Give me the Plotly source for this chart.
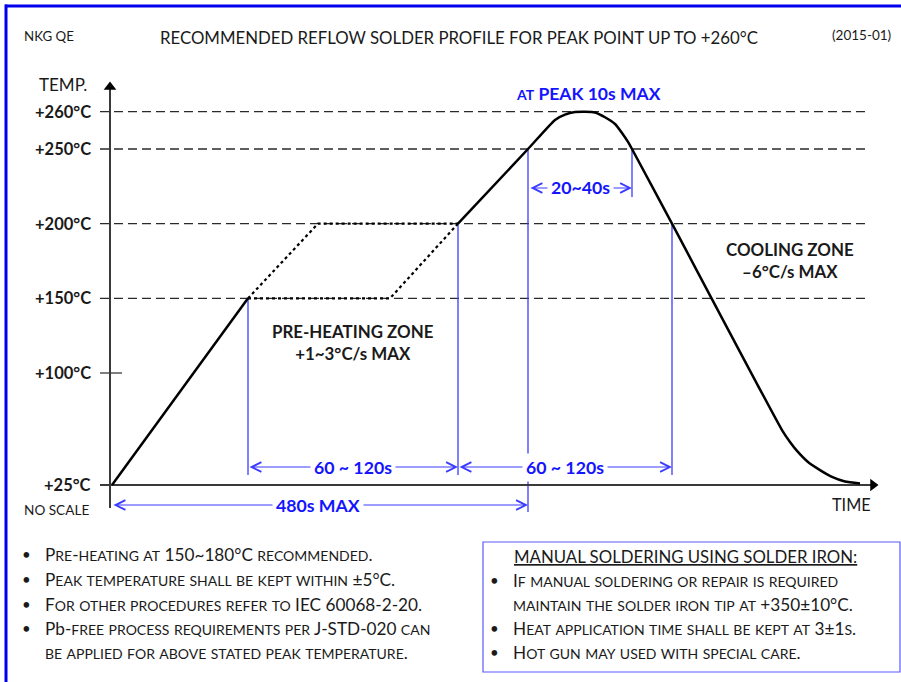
import plotly.graph_objects as go

W, H = 901, 682

# ---------------- data (schematic: time units are "no scale") ----------------
temp_levels = [260, 250, 200, 150, 100, 25]
temp_labels = ["+260°C", "+250°C", "+200°C", "+150°C", "+100°C", "+25°C"]
grid_levels = [260, 250, 200, 150]

# heating ramp 25 -> 150 °C
ramp_t = [0, 136]
ramp_T = [25, 150]
# pre-heating alternatives (dotted)
pre_fast_t = [136, 206, 346]
pre_fast_T = [150, 200, 200]
pre_slow_t = [136, 278, 346]
pre_slow_T = [150, 150, 200]
# reflow, peak and cooling
reflow_t = [346, 416, 443, 453, 463, 473, 483, 493, 503, 510, 516, 520, 560, 670, 678, 685, 696, 708, 720, 733, 748]
reflow_T = [200, 250, 257.8, 259.2, 259.9, 260, 259.8, 258.5, 256.7, 254.3, 251.9, 250, 200, 61.8, 53.8, 47.8, 40.4, 35.0, 30.4, 27.3, 26.0]

# key times of the profile
t_150 = 136
t_200_up = 346
t_250_up = 416
t_250_down = 520
t_200_down = 560

# ---------------- helpers ----------------
PX_PER_DEG = 1.4933
X0_PX, Y0_PX = 112, 485   # pixel position of (t=0, 25 °C)

def disp(T):
    """non-linear (NO SCALE) temperature axis: expand the range above 250 °C"""
    return T if T <= 250 else 250 + (T - 250) * 2.5

def pxx(x):
    return x / W

def pxy(y):
    return 1 - y / H

def sc(s, big, small):
    """small caps: lowercase -> small capitals, {...} kept literally"""
    out, cur, cur_size, lit = [], "", None, False
    for c in s:
        if c == "{":
            lit = True
            continue
        if c == "}":
            lit = False
            continue
        if lit:
            size, ch = big, c
        elif c.islower():
            size, ch = small, c.upper()
        else:
            size, ch = big, c
        if size != cur_size and cur:
            out.append(f'<span style="font-size:{cur_size}px">{cur}</span>')
            cur = ""
        cur_size = size
        cur += ch
    if cur:
        out.append(f'<span style="font-size:{cur_size}px">{cur}</span>')
    return "".join(out)

FONT = "Lato"
BLUE_TXT = "#1414ff"
BLUE_LN = "#3c3cff"
DARK = "#1a1a1a"
AXIS = "#3a3a3a"

fig = go.Figure()

# dashed reference lines
for lv in grid_levels:
    fig.add_trace(go.Scatter(x=[-12, 756], y=[disp(lv)] * 2, mode="lines",
                             line=dict(color="#2a2a2a", width=1.3, dash="9px,5px"),
                             hoverinfo="skip", showlegend=False))
# short tick at 100
fig.add_trace(go.Scatter(x=[-12, 10], y=[100, 100], mode="lines",
                         line=dict(color=AXIS, width=1.3), hoverinfo="skip", showlegend=False))

# blue vertical guide lines
vguides = [
    (t_150, 150, 31.7),
    (t_200_up, 200, 31.7),
    (t_250_up, 250, 6.9),
    (t_200_down, 200, 31.7),
    (t_250_down, 250, 217.9),
]
for t, a, b in vguides:
    fig.add_trace(go.Scatter(x=[t, t], y=[a, b], mode="lines",
                             line=dict(color=BLUE_LN, width=1.3),
                             hoverinfo="skip", showlegend=False))

# axes
fig.add_trace(go.Scatter(x=[-12, 760], y=[25, 25], mode="lines",
                         line=dict(color=AXIS, width=2), hoverinfo="skip", showlegend=False))
fig.add_trace(go.Scatter(x=[-2, -2], y=[9.6, 292], mode="lines",
                         line=dict(color=AXIS, width=2), hoverinfo="skip", showlegend=False))
fig.add_trace(go.Scatter(x=[761], y=[25], mode="markers",
                         marker=dict(symbol="triangle-right", size=11, color="black"),
                         hoverinfo="skip", showlegend=False))
fig.add_trace(go.Scatter(x=[-2], y=[291.5], mode="markers",
                         marker=dict(symbol="triangle-up", size=11, color="black"),
                         hoverinfo="skip", showlegend=False))

# profile
fig.add_trace(go.Scatter(x=pre_fast_t, y=[disp(v) for v in pre_fast_T], mode="lines",
                         line=dict(color="black", width=2.2, dash="dot"), hoverinfo="skip", showlegend=False))
fig.add_trace(go.Scatter(x=pre_slow_t, y=[disp(v) for v in pre_slow_T], mode="lines",
                         line=dict(color="black", width=2.2, dash="dot"), hoverinfo="skip", showlegend=False))
fig.add_trace(go.Scatter(x=ramp_t, y=[disp(v) for v in ramp_T], mode="lines",
                         line=dict(color="black", width=2.5), hoverinfo="skip", showlegend=False))
fig.add_trace(go.Scatter(x=reflow_t, y=[disp(v) for v in reflow_T], mode="lines",
                         line=dict(color="black", width=2.5, shape="spline", smoothing=0.5),
                         hoverinfo="skip", showlegend=False))

ann = []

# double arrows
def darrow(t0, t1, T):
    ann.append(dict(x=t1, y=T, ax=t0, ay=T, xref="x", yref="y", axref="x", ayref="y",
                    text="", showarrow=True, arrowside="end+start",
                    arrowhead=5, startarrowhead=5, arrowsize=1.6, startarrowsize=1.6,
                    arrowwidth=1.2, arrowcolor=BLUE_LN, standoff=0, startstandoff=0))

darrow(t_150, t_200_up, 37.05)
darrow(t_200_up, t_200_down, 37.05)
darrow(0, t_250_up, 11.6)
darrow(t_250_up + 1, t_250_down, 223.9)

def blue_label(x, y, text):
    ann.append(dict(x=x, y=y, xref="x", yref="y", text=text, showarrow=False,
                    bgcolor="white", borderpad=3,
                    font=dict(family=FONT, size=17.7, color=BLUE_TXT, weight="bold")))

blue_label(241, 37.05, "60 ~ 120s")
blue_label(453, 37.05, "60 ~ 120s")
blue_label(206, 11.6, "480s MAX")
blue_label(468, 223.9, "20~40s")
ann.append(dict(x=476, y=disp(260) + 12.5, xref="x", yref="y",
                text=sc("at {PEAK 10s MAX}", 17.5, 14), showarrow=False,
                font=dict(family=FONT, size=17.5, color=BLUE_TXT, weight="bold")))

# tick labels
for lv, lab in zip(temp_levels, temp_labels):
    ann.append(dict(x=-19, y=disp(lv), xref="x", yref="y", text=lab, xanchor="right",
                    showarrow=False, font=dict(family=FONT, size=16.5, color=DARK, weight="bold")))

# zone labels
ann.append(dict(x=241, y=25 + (485 - 342) / PX_PER_DEG, xref="x", yref="y",
                text="PRE-HEATING ZONE<br>+1~3°C/s MAX", showarrow=False,
                font=dict(family=FONT, size=16.9, color=DARK, weight="bold")))
ann.append(dict(x=678, y=25 + (485 - 260) / PX_PER_DEG, xref="x", yref="y",
                text="COOLING ZONE<br>–6°C/s MAX", showarrow=False,
                font=dict(family=FONT, size=16.9, color=DARK, weight="bold")))

# paper texts
def ptext(x, y, text, size, anchor="left", bold=False, color=DARK):
    ann.append(dict(x=pxx(x), y=pxy(y), xref="paper", yref="paper", text=text,
                    xanchor=anchor, yanchor="middle", showarrow=False,
                    font=dict(family=FONT, size=size, color=color,
                              weight="bold" if bold else "normal")))

ptext(22, 36, "NKG QE", 13.3)
ptext(459, 38, "RECOMMENDED REFLOW SOLDER PROFILE FOR PEAK POINT UP TO +260°C", 16.8, "center")
ptext(893, 35, "(2015-01)", 13.5, "right")
ptext(89, 84, "TEMP.", 17, "right")
ptext(22, 510, "NO SCALE", 13.6)
ptext(873, 504, "TIME", 16.3, "right")

BIG, SMALL = 17.2, 14
left_notes = [
    (554, True, "Pre-heating at 150~180°C recommended."),
    (579, True, "Peak temperature shall be kept within ±5°C."),
    (604, True, "For other procedures refer to IEC 60068-2-20."),
    (628, True, "{Pb}-free process requirements per J-STD-020 can"),
    (652, False, "be applied for above stated peak temperature."),
]
for y, bullet, txt in left_notes:
    if bullet:
        ptext(20, y, "•", 15)
    ptext(43, y, sc(txt, BIG, SMALL), BIG)

right_notes = [
    (580, True, "If manual soldering or repair is required"),
    (604, False, "maintain the solder iron tip at +350±10°C."),
    (628, True, "Heat application time shall be kept at 3±1s."),
    (652, True, "Hot gun may used with special care."),
]
ptext(512, 556, '<span style="text-decoration:underline">MANUAL SOLDERING USING SOLDER IRON:</span>', 16.8)
for y, bullet, txt in right_notes:
    if bullet:
        ptext(488, y, "•", 15)
    ptext(511, y, sc(txt, BIG, SMALL), BIG)

shapes = [
    # page frame: top and left edges as filled strips
    dict(type="rect", xref="paper", yref="paper", x0=pxx(5), x1=1, y0=pxy(7.5), y1=pxy(4.5),
         line=dict(width=0), fillcolor="#0000ee", layer="above"),
    dict(type="rect", xref="paper", yref="paper", x0=pxx(4.5), x1=pxx(7.5), y0=0, y1=pxy(4.5),
         line=dict(width=0), fillcolor="#0000ee", layer="above"),
    dict(type="rect", xref="paper", yref="paper", x0=pxx(483), x1=pxx(900), y0=pxy(672), y1=pxy(542),
         line=dict(color="#5a5aff", width=1.2), fillcolor="rgba(0,0,0,0)"),
]

fig.update_layout(
    width=W, height=H, margin=dict(l=0, r=0, t=0, b=0),
    paper_bgcolor="white", plot_bgcolor="white",
    xaxis=dict(range=[-X0_PX, W - X0_PX], visible=False, fixedrange=True),
    yaxis=dict(range=[25 - (H - Y0_PX) / PX_PER_DEG, 25 + Y0_PX / PX_PER_DEG], visible=False, fixedrange=True),
    annotations=ann, shapes=shapes, showlegend=False,
)

fig.write_html("out.html", config={"displayModeBar": False},
               post_script="document.body.style.margin='0';document.body.style.overflow='hidden';")
